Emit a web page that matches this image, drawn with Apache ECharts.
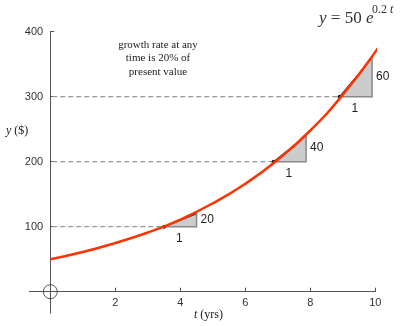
<!DOCTYPE html>
<html>
<head>
<meta charset="utf-8">
<script src="https://cdn.jsdelivr.net/npm/echarts@6/dist/echarts.min.js"></script>
<style>html,body{margin:0;padding:0;background:#fff;}#c{width:405px;height:326px;}</style>
</head>
<body>
<div id="c"></div>
<script>
// Curve samples (t in years, y in $)
const curveT = [0, 1, 2, 3, 4, 5, 6, 7, 8, 9, 10, 10.6];
const curveY = [50, 61, 75, 91, 111, 136, 166, 203, 248, 303, 369, 416];
// Slope triangles: start point and rise over a run of 1
const triT = [3.5, 6.87, 8.9];
const triY = [100, 200, 300];
const triRise = [20, 40, 60];
// Tick labels
const xTicks = [2, 4, 6, 8, 10];
const yTicks = [100, 200, 300, 400];
const noteLines = ['growth rate at any', 'time is 20% of', 'present value'];

const serif = '"Liberation Serif", "DejaVu Serif", serif';
const sans = '"Liberation Sans", Arial, sans-serif';

const curveData = curveT.map((t, i) => [t, curveY[i]]);
const triData = triT.map((t, i) => [t, triY[i], triRise[i]]);
const dashData = [];
triT.forEach((t, i) => { dashData.push([0.06, triY[i]], [t, triY[i]], [null, null]); });

const chart = echarts.init(document.getElementById('c'));
chart.setOption({
  animation: false,
  grid: { left: 29.2, right: 29.7, top: 31.7, bottom: 12.85, containLabel: false },
  xAxis: {
    type: 'value', min: -0.65, max: 10,
    axisLine: { onZero: true, lineStyle: { color: '#555', width: 1 } },
    axisTick: { inside: true, length: 4, customValues: xTicks, lineStyle: { color: '#555' } },
    axisLabel: { customValues: xTicks, margin: -16, color: '#333', fontFamily: sans, fontSize: 11 },
    splitLine: { show: false }
  },
  yAxis: {
    type: 'value', min: -33, max: 400,
    axisLine: { onZero: true, lineStyle: { color: '#555', width: 1 } },
    axisTick: { inside: true, length: 4, customValues: yTicks, lineStyle: { color: '#555' } },
    axisLabel: { customValues: yTicks, margin: -14, color: '#333', fontFamily: sans, fontSize: 11 },
    splitLine: { show: false }
  },
  graphic: [
    { type: 'text', x: 158, y: 38, style: {
        text: noteLines.join('\n'), font: '11px ' + serif, fill: '#222',
        align: 'center', verticalAlign: 'top', lineHeight: 13.5 } },
    { type: 'text', x: 319, y: 19, style: {
        text: '{i|y} = 50 {i|e}', verticalAlign: 'middle', fill: '#333',
        font: '17px ' + serif,
        rich: { i: { fontStyle: 'italic', fontFamily: serif, fontSize: 17, fill: '#333' } } } },
    { type: 'text', x: 372, y: 10, style: {
        text: '0.2 {i|t}', verticalAlign: 'middle', fill: '#333', font: '12px ' + serif,
        rich: { i: { fontStyle: 'italic', fontFamily: serif, fontSize: 12, fill: '#333' } } } },
    { type: 'text', x: 6, y: 131, style: {
        text: '{i|y} ($)', verticalAlign: 'middle', fill: '#222', font: '12px ' + serif,
        rich: { i: { fontStyle: 'italic', fontFamily: serif, fontSize: 12, fill: '#222' } } } },
    { type: 'text', x: 194, y: 315, style: {
        text: '{i|t} (yrs)', verticalAlign: 'middle', fill: '#222', font: '12px ' + serif,
        rich: { i: { fontStyle: 'italic', fontFamily: serif, fontSize: 12, fill: '#222' } } } }
  ],
  series: [
    {
      type: 'line', data: dashData, symbol: 'none', silent: true, connectNulls: false,
      lineStyle: { color: '#999', width: 1.3, type: [5, 3] }, z: 1
    },
    {
      type: 'custom', data: triData, clip: false, z: 2,
      renderItem: function (params, api) {
        const t = api.value(0), y = api.value(1), r = api.value(2);
        const p0 = api.coord([t, y]), p1 = api.coord([t + 1, y]), p2 = api.coord([t + 1, y + r]);
        return { type: 'group', children: [
          { type: 'polygon', shape: { points: [p0, p1, p2] }, style: { fill: '#cccccc', stroke: '#888', lineWidth: 1.5 } },
          { type: 'line', shape: { x1: p0[0], y1: p0[1], x2: p2[0], y2: p2[1] }, style: { stroke: '#333', lineWidth: 1 } },
          { type: 'circle', shape: { cx: p0[0], cy: p0[1], r: 2 }, style: { fill: '#222' } },
          { type: 'text', style: { text: String(r), x: p2[0] + 4, y: (p1[1] + p2[1]) / 2 - 1, verticalAlign: 'middle', font: '12px ' + sans, fill: '#222' } },
          { type: 'text', style: { text: '1', x: (p0[0] + p1[0]) / 2 - 1, y: p1[1] + 6, align: 'center', verticalAlign: 'top', font: '12px ' + sans, fill: '#222' } }
        ] };
      }
    },
    {
      type: 'line', data: curveData, smooth: true, symbol: 'none', clip: false, z: 3,
      lineStyle: { color: '#ff3300', width: 2.5 }
    },
    {
      type: 'scatter', data: [[0, 0]], symbol: 'circle', symbolSize: 14, z: 4,
      itemStyle: { color: 'rgba(0,0,0,0)', borderColor: '#333', borderWidth: 1 }
    }
  ]
});
</script>
</body>
</html>
